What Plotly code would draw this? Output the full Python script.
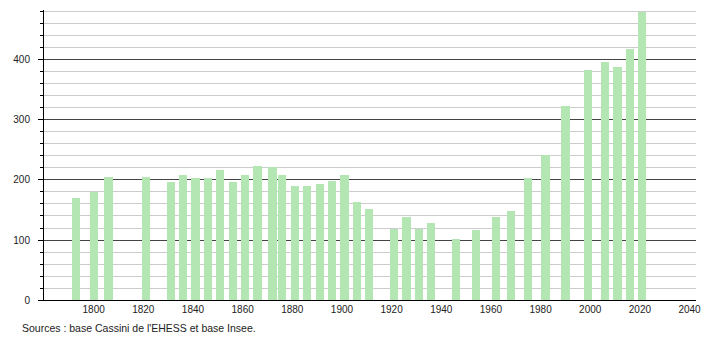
import plotly.graph_objects as go

years = [1793, 1800, 1806, 1821, 1831, 1836, 1841, 1846, 1851, 1856, 1861, 1866,
         1872, 1876, 1881, 1886, 1891, 1896, 1901, 1906, 1911, 1921, 1926, 1931,
         1936, 1946, 1954, 1962, 1968, 1975, 1982, 1990, 1999, 2006, 2011, 2016, 2021]
population = [170, 180, 205, 205, 196, 208, 203, 203, 216, 196, 209, 224,
              221, 209, 190, 190, 194, 199, 208, 163, 151, 119, 139, 119,
              128, 102, 117, 139, 148, 203, 241, 324, 383, 397, 389, 418, 480]
x_ticks = list(range(1800, 2041, 20))
y_ticks = [0, 100, 200, 300, 400]
source_text = "Sources : base Cassini de l'EHESS et base Insee."

FONT = "Liberation Sans, Arial, sans-serif"

fig = go.Figure(go.Bar(
    x=years, y=population, width=3.3,
    marker=dict(color="#b3e6b3", line=dict(width=0)),
    hoverinfo="x+y",
))

fig.update_layout(
    width=710, height=340,
    margin=dict(l=44, r=9, t=10, b=40),
    paper_bgcolor="white", plot_bgcolor="white",
    showlegend=False,
    font=dict(family=FONT, size=10, color="#222"),
    xaxis=dict(
        range=[1780, 2042.6], tickmode="array", tickvals=x_ticks,
        ticks="", showgrid=False, zeroline=False,
        showline=True, linecolor="black", linewidth=1,
        tickfont=dict(size=10, color="#222"),
    ),
    yaxis=dict(
        range=[0, 483.3], tickmode="array", tickvals=y_ticks,
        ticks="outside", ticklen=5, tickcolor="black", tickwidth=1,
        showgrid=True, gridcolor="#444", gridwidth=1,
        zeroline=False, showline=True, linecolor="black", linewidth=1,
        ticklabelstandoff=6,
        minor=dict(dtick=20, tick0=0, ticks="outside", ticklen=3,
                   tickcolor="black", showgrid=True, gridcolor="#cccccc", gridwidth=1),
        tickfont=dict(size=10, color="#222"),
    ),
    bargap=0,
    annotations=[dict(
        text=source_text, xref="paper", yref="paper",
        x=-24 / 657, y=-28 / 290, xanchor="left", yanchor="middle",
        showarrow=False, font=dict(family=FONT, size=10.5, color="#222"),
    )],
)

fig.write_html("out.html")
